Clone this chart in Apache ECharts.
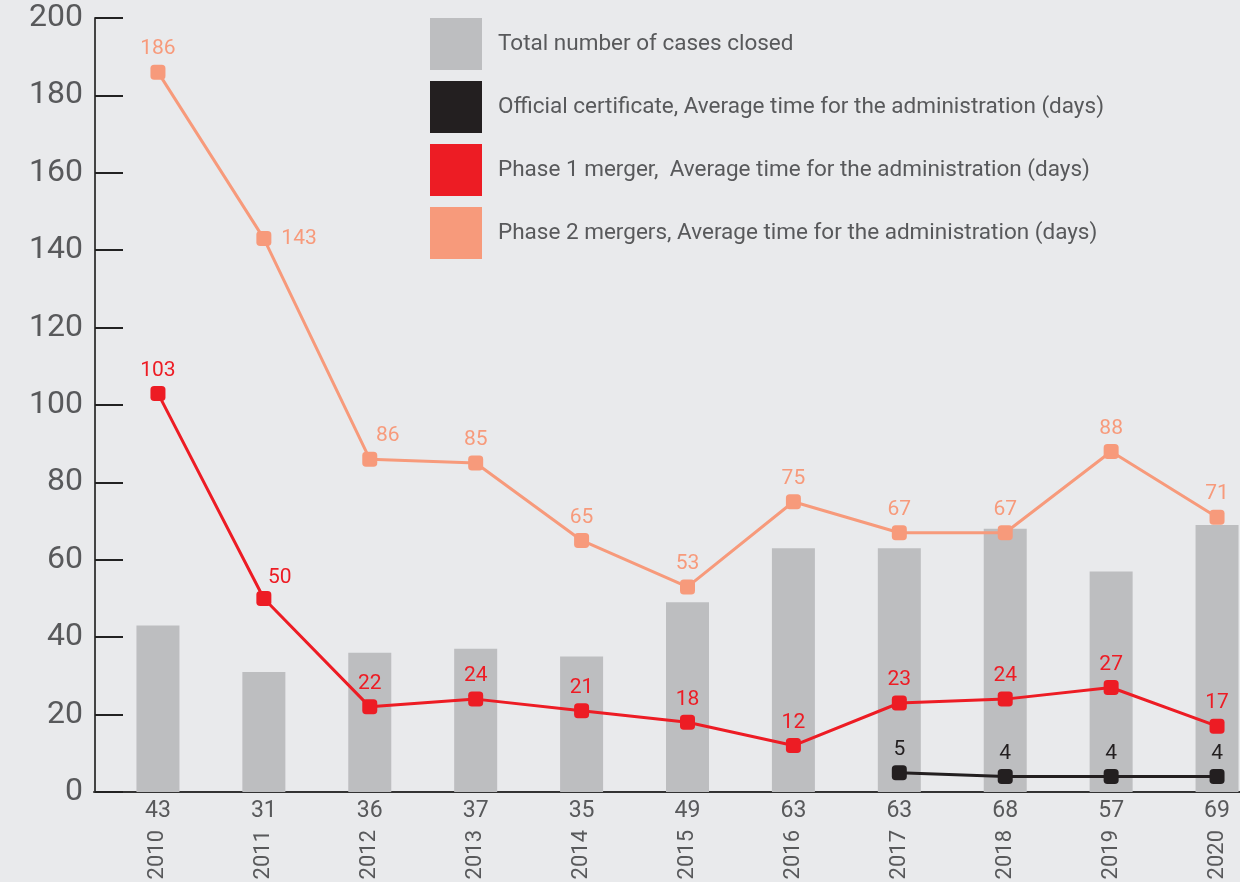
<!DOCTYPE html>
<html lang="en">
	<head>
		<meta charset="UTF-8" />
		<title>Cases closed and average time</title>
		<style>
			* {
				box-sizing: border-box;
				margin: 0;
				padding: 0;
			}

			body {
				background-color: #e9eaec;
			}

			.container {
				width: 1240px;
				height: 882px;
			}
		</style>
	</head>
	<body>
		<div class="container" id="chart"></div>
		<script src="https://cdn.jsdelivr.net/npm/echarts@6/dist/echarts.min.js"></script>
		<script>
			// 数据
			const years = ['2010', '2011', '2012', '2013', '2014', '2015', '2016', '2017', '2018', '2019', '2020']
			const casesClosed = [43, 31, 36, 37, 35, 49, 63, 63, 68, 57, 69]
			const certificate = [null, null, null, null, null, null, null, 5, 4, 4, 4]
			const phase1 = [103, 50, 22, 24, 21, 18, 12, 23, 24, 27, 17]
			const phase2 = [186, 143, 86, 85, 65, 53, 75, 67, 67, 88, 71]
			const yTicks = [0, 200, 20] // min, max, interval

			const names = [
				'Total number of cases closed',
				'Official certificate, Average time for the administration (days)',
				'Phase 1 merger,  Average time for the administration (days)',
				'Phase 2 mergers, Average time for the administration (days)'
			]
			const colors = ['#bdbec0', '#231f20', '#ed1c24', '#f79a7b']

			const font = 'Roboto'
			const grey = '#58595b'

			// 个别标签位置
			const labelTweaks = {
				phase1: { 1: { position: 'top', offset: [16, 2] } },
				phase2: { 1: { position: 'right', distance: 10 }, 2: { position: 'top', offset: [18, 0] } }
			}

			function lineData(values, tweaks) {
				return values.map((v, i) => tweaks && tweaks[i] ? { value: v, label: tweaks[i] } : v)
			}

			function lineSeries(name, values, color, tweaks) {
				return {
					name: name,
					type: 'line',
					data: lineData(values, tweaks),
					symbol: 'roundRect',
					symbolSize: 15,
					z: 3,
					lineStyle: { color: color, width: 3 },
					itemStyle: { color: color },
					label: {
						show: true,
						position: 'top',
						distance: 5,
						color: color,
						fontFamily: font,
						fontSize: 21
					},
					emphasis: { disabled: true }
				}
			}

			const chart = echarts.init(document.getElementById('chart'))
			chart.setOption({
				backgroundColor: '#e9eaec',
				animation: false,
				legend: {
					orient: 'vertical',
					left: 430,
					top: 18,
					padding: 0,
					itemWidth: 52,
					itemHeight: 52,
					itemGap: 11,
					icon: 'rect',
					selectedMode: false,
					data: names,
					textStyle: { color: grey, fontFamily: font, fontSize: 22.5, padding: [12, 0, 0, 11] }
				},
				grid: [
					{ left: 105, right: -30, top: 18, bottom: 90, outerBoundsMode: 'none' },
					{ left: 94, right: -19, top: 18, bottom: 90, outerBoundsMode: 'none' }
				],
				xAxis: [
					{
						type: 'category',
						data: years,
						axisLine: { show: false },
						axisTick: { show: false },
						axisLabel: {
							margin: 8,
							color: grey,
							fontFamily: font,
							fontSize: 23,
							formatter: (v, i) => String(casesClosed[i])
						}
					},
					{
						type: 'category',
						data: years,
						position: 'bottom',
						axisLine: { show: false },
						axisTick: { show: false },
						axisLabel: {
							margin: 38,
							rotate: 90,
							color: grey,
							fontFamily: font,
							fontSize: 22
						}
					},
					{
						// 刻度线
						type: 'category',
						gridIndex: 1,
						data: years,
						axisLine: { lineStyle: { color: '#333', width: 2 } },
						axisTick: { inside: true, length: 20, lineStyle: { color: '#333', width: 2 } },
						axisLabel: { show: false }
					}
				],
				yAxis: [
					{
						type: 'value',
						min: yTicks[0],
						max: yTicks[1],
						interval: yTicks[2],
						offset: 10,
						axisLine: { show: true, lineStyle: { color: '#444', width: 2 } },
						axisTick: { show: true, inside: true, length: 28, lineStyle: { color: '#222', width: 2 } },
						splitLine: { show: false },
						axisLabel: {
							margin: 12,
							color: grey,
							fontFamily: font,
							fontSize: 32
						}
					},
					{
						type: 'value',
						gridIndex: 1,
						min: yTicks[0],
						max: yTicks[1],
						show: false
					}
				],
				series: [
					{
						name: names[0],
						type: 'bar',
						data: casesClosed,
						barWidth: 43,
						itemStyle: { color: colors[0] },
						emphasis: { disabled: true }
					},
					lineSeries(names[1], certificate, colors[1]),
					lineSeries(names[2], phase1, colors[2], labelTweaks.phase1),
					lineSeries(names[3], phase2, colors[3], labelTweaks.phase2)
				]
			})
		</script>
	</body>
</html>
